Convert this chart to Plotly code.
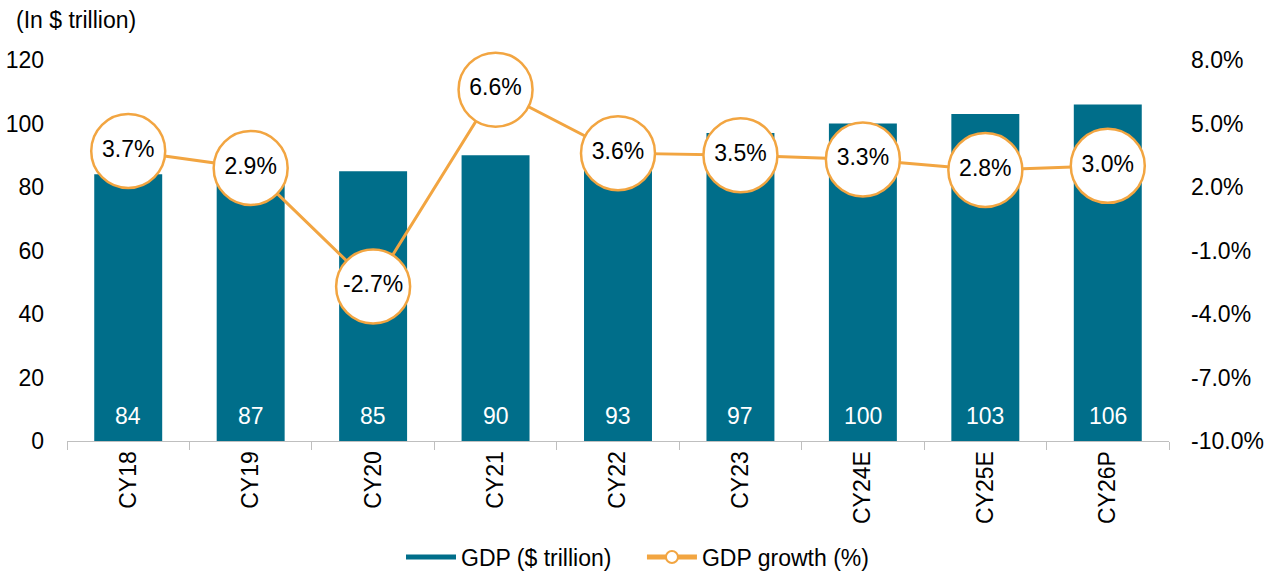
import plotly.graph_objects as go

categories = ["CY18", "CY19", "CY20", "CY21", "CY22", "CY23", "CY24E", "CY25E", "CY26P"]
gdp = [84, 87, 85, 90, 93, 97, 100, 103, 106]
growth = [3.7, 2.9, -2.7, 6.6, 3.6, 3.5, 3.3, 2.8, 3.0]
y2_ticks = [-10, -7, -4, -1, 2, 5, 8]

BAR = "#006E8A"
ORANGE = "#F2A541"
FONT = "Liberation Sans, Arial, sans-serif"
FS = 23

fig = go.Figure()
fig.add_trace(go.Bar(
    x=categories, y=gdp, name="GDP ($ trillion)", showlegend=False,
    marker=dict(color=BAR, line=dict(width=0)), width=0.555,
    hoverinfo="skip",
))
# legend swatch for the bars (wide rectangle like the original)
fig.add_trace(go.Scatter(
    x=[None], y=[None], name="GDP ($ trillion)" + "\u00a0" * 4, mode="lines",
    line=dict(color=BAR, width=13), hoverinfo="skip",
))
fig.add_trace(go.Scatter(
    x=categories, y=growth, name="GDP growth (%)", yaxis="y2",
    mode="lines+markers", cliponaxis=False,
    line=dict(color=ORANGE, width=3),
    marker=dict(size=74, color="white", line=dict(color=ORANGE, width=2.5)),
    hoverinfo="skip",
))
fig.add_trace(go.Scatter(
    x=categories, y=growth, yaxis="y2", mode="text", showlegend=False,
    cliponaxis=False,
    text=[f"{v:.1f}%" for v in growth], textposition="middle center",
    textfont=dict(color="black", size=FS, family=FONT), hoverinfo="skip",
))

annotations = [dict(text="(In $ trillion)", xref="paper", yref="paper",
                    x=-0.048, y=(441 - 20) / 381, xanchor="left", yanchor="middle",
                    showarrow=False, font=dict(size=FS, family=FONT))]
for c, v in zip(categories, gdp):
    annotations.append(dict(x=c, y=0, xref="x", yref="y", text=str(v),
                            showarrow=False, yanchor="bottom", yshift=10,
                            font=dict(color="white", size=FS, family=FONT)))

fig.update_layout(
    width=1275, height=572,
    margin=dict(l=67, r=106, t=60, b=131, autoexpand=False),
    paper_bgcolor="white", plot_bgcolor="white",
    font=dict(family=FONT, size=FS, color="black"),
    showlegend=True,
    legend=dict(orientation="h", xref="container", x=0.5, xanchor="center",
                yref="container", y=(572 - 557) / 572, yanchor="middle",
                font=dict(size=FS), itemsizing="constant", itemwidth=50,
                traceorder="normal", tracegroupgap=0),
    xaxis=dict(range=[-0.5, 8.5], showgrid=False, showline=True, linecolor="#BFBFBF",
               linewidth=1, ticks="outside", tickson="boundaries", ticklen=8,
               tickcolor="#BFBFBF", tickangle=-90, tickfont=dict(size=FS),
               automargin=False, fixedrange=True),
    yaxis=dict(range=[0, 120], dtick=20, showgrid=False, showline=False, zeroline=False,
               ticks="", ticklabelstandoff=22, tickfont=dict(size=FS), automargin=False),
    yaxis2=dict(range=[-10, 8], overlaying="y", side="right",
                tickvals=y2_ticks, ticktext=[f"{v:.1f}%" for v in y2_ticks],
                showgrid=False, showline=False, zeroline=False, ticks="",
                ticklabelstandoff=21, tickfont=dict(size=FS), automargin=False),
    annotations=annotations,
)

fig.write_html("out.html", config={"displayModeBar": False},
               post_script="document.body.style.margin='0';")
